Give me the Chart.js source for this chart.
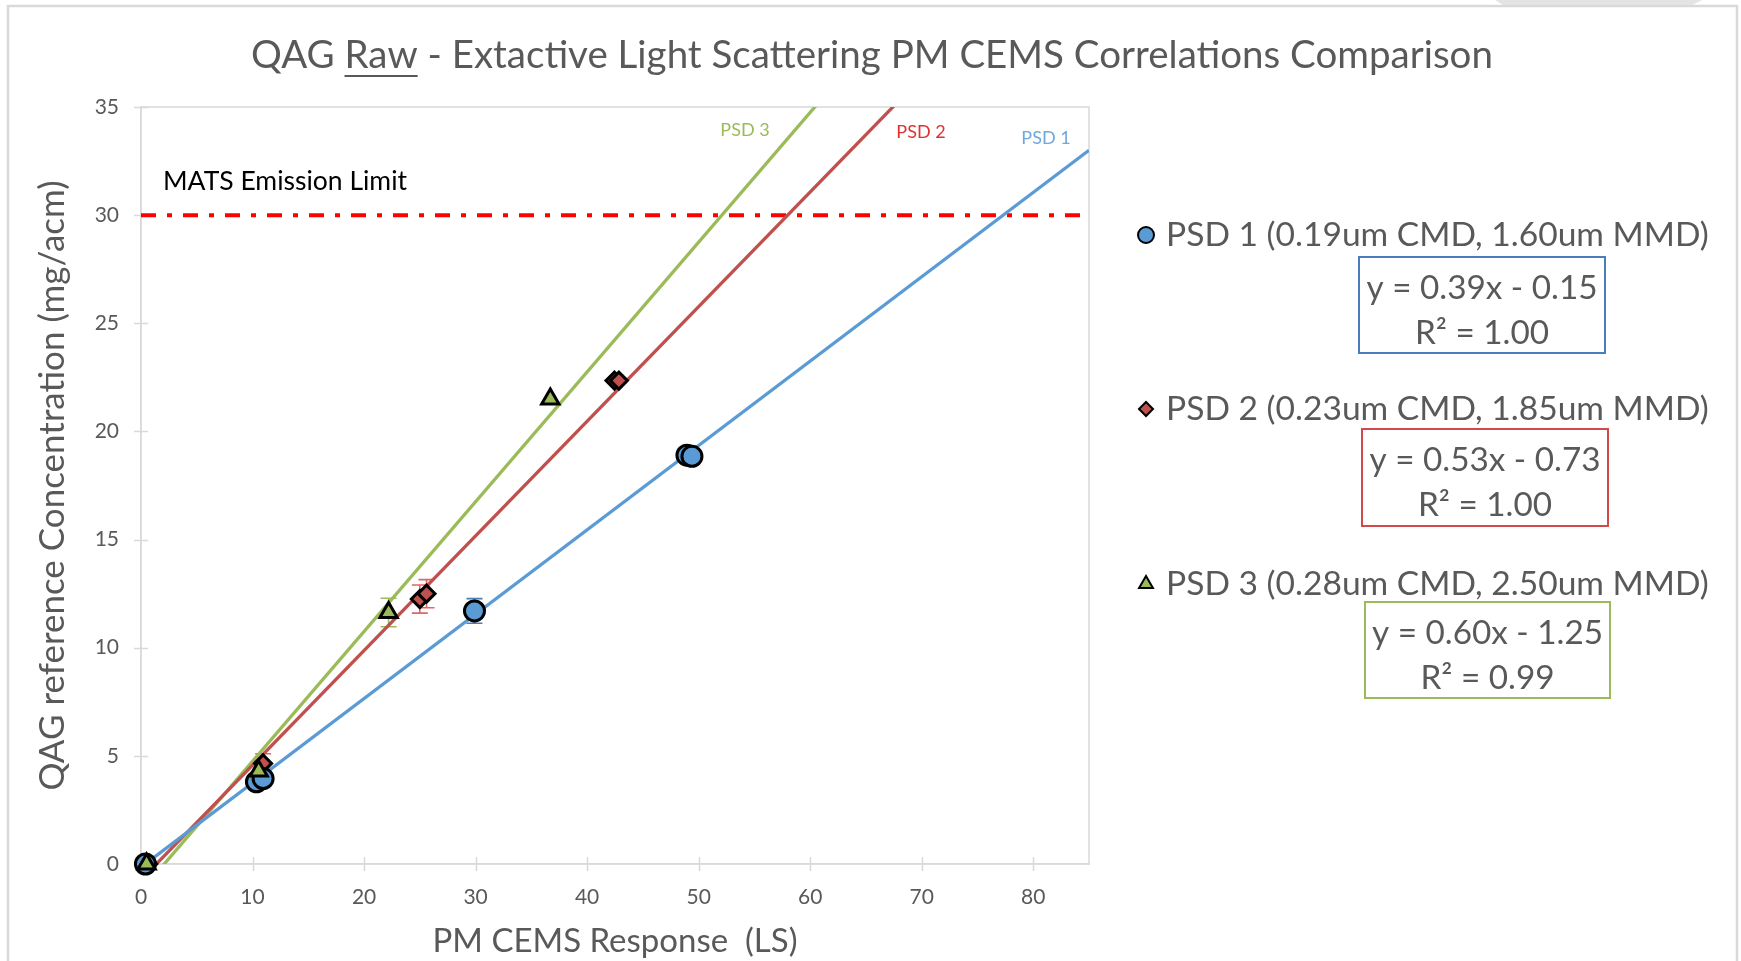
<!DOCTYPE html>
<html>
<head>
<meta charset="utf-8">
<script src="https://cdn.jsdelivr.net/npm/chart.js@4.4.1/dist/chart.umd.min.js"></script>
<style>
  html, body { margin: 0; padding: 0; background: #ffffff; }
  #wrap { width: 1741px; height: 961px; position: relative; }
</style>
</head>
<body>
<div id="wrap"><canvas id="chart" width="1741" height="961"></canvas></div>
<script>
// ---- data ----
const seriesLabels = [
  'PSD 1 (0.19um CMD, 1.60um MMD)',
  'PSD 2 (0.23um CMD, 1.85um MMD)',
  'PSD 3 (0.28um CMD, 2.50um MMD)'
];
const shortLabels = ['PSD 1', 'PSD 2', 'PSD 3'];

const psd1X   = [0.4, 10.35, 10.95, 29.9, 48.95, 49.4];
const psd1Y   = [0.0, 3.8,   3.95,  11.7, 18.9,  18.85];
const psd1Err = [0,   0,     0,     0.57, 0,     0];

const psd2X   = [0.65, 10.95, 25.0,  25.6, 42.45, 42.85];
const psd2Y   = [0.0,  4.65,  12.25, 12.5, 22.35, 22.35];
const psd2Err = [0,    0.45,  0.65,  0.65, 0,     0];

const psd3X   = [0.5, 10.55, 22.2,  36.7];
const psd3Y   = [0.0, 4.3,   11.63, 21.5];
const psd3Err = [0,   0,     0.66,  0];

// fitted trendlines (slope, intercept, R²)
const slopes     = [0.39, 0.53, 0.60];
const intercepts = [-0.15, -0.73, -1.25];
const rSquared   = ['1.00', '1.00', '0.99'];

const emissionLimit = 30;
const xTicks = [0, 10, 20, 30, 40, 50, 60, 70, 80];
const yTicks = [0, 5, 10, 15, 20, 25, 30, 35];
const xMin = 0, xMax = 85, yMin = 0, yMax = 35;

// ---- styles ----
const FONT = 'Lato';
const TEXT_GREY = '#595959';
const lineColors   = ['#5b9bd5', '#c0504d', '#9bbb59'];
const markerFills  = ['#5b9bd5', '#c0504d', '#9bbb59'];
const markerStyles = ['circle', 'rectRot', 'triangle'];
const markerRadius = [10, 8.5, 10];
const markerOrder  = [0, 0, -1];
const errColors    = ['#4a7ebb', '#e06666', '#9bbb59'];
const boxColors    = ['#4a7ebb', '#d04a4a', '#9bbb59'];
const tagColors    = ['#6fa8dc', '#e03030', '#9bbb59'];

const xs = [psd1X, psd2X, psd3X];
const ys = [psd1Y, psd2Y, psd3Y];
const errs = [psd1Err, psd2Err, psd3Err];

const pts = (xArr, yArr) => xArr.map((x, i) => ({ x, y: yArr[i] }));
const trend = i => [xMin, xMax].map(x => ({ x, y: slopes[i] * x + intercepts[i] }));

const datasets = [];
// measured points (drawn on top, not clipped at the axes)
for (let i = 0; i < 3; i++) {
  datasets.push({
    label: seriesLabels[i],
    data: pts(xs[i], ys[i]),
    showLine: false,
    clip: false,
    pointStyle: markerStyles[i],
    pointRadius: markerRadius[i],
    pointBackgroundColor: markerFills[i],
    pointBorderColor: '#000000',
    pointBorderWidth: 3,
    order: markerOrder[i]
  });
}
// trendlines
for (let i = 0; i < 3; i++) {
  datasets.push({
    label: shortLabels[i] + ' trend',
    data: trend(i),
    showLine: true,
    borderColor: lineColors[i],
    borderWidth: 3.3,
    pointRadius: 0,
    order: 1
  });
}
// emission limit
datasets.push({
  label: 'MATS Emission Limit',
  data: [{ x: xMin, y: emissionLimit }, { x: xMax, y: emissionLimit }],
  showLine: true,
  borderColor: '#ff0000',
  borderWidth: 4,
  borderDash: [15, 11, 5, 11],
  pointRadius: 0,
  order: 2
});

// ---- drawing helpers ----
const frame = {
  id: 'frame',
  beforeDraw(chart) {
    const ctx = chart.ctx;
    ctx.save();
    ctx.fillStyle = '#ffffff';
    ctx.fillRect(0, 0, chart.width, chart.height);
    // grey sliver at the top right edge
    ctx.fillStyle = '#e4e4e4';
    ctx.beginPath();
    ctx.moveTo(1495, 0); ctx.lineTo(1702, 0); ctx.lineTo(1690, 6); ctx.lineTo(1505, 6);
    ctx.closePath(); ctx.fill();
    // outer border
    ctx.strokeStyle = '#d9d9d9';
    ctx.lineWidth = 2.5;
    ctx.strokeRect(8, 6, 1729, 1000);
    ctx.restore();
  }
};

const decorations = {
  id: 'decorations',
  beforeDatasetsDraw(chart) {
    const ctx = chart.ctx;
    const a = chart.chartArea;
    const sx = chart.scales.x, sy = chart.scales.y;
    ctx.save();
    // plot-area outline
    ctx.strokeStyle = '#d9d9d9';
    ctx.lineWidth = 1.5;
    ctx.strokeRect(a.left, a.top, a.right - a.left, a.bottom - a.top);
    // crossing tick marks
    ctx.beginPath();
    xTicks.forEach(v => {
      const px = Math.round(sx.getPixelForValue(v)) + 0.5;
      ctx.moveTo(px, a.bottom - 7); ctx.lineTo(px, a.bottom + 7);
    });
    yTicks.forEach(v => {
      const py = Math.round(sy.getPixelForValue(v)) + 0.5;
      ctx.moveTo(a.left - 7, py); ctx.lineTo(a.left + 7, py);
    });
    ctx.stroke();
    // error bars
    ctx.lineWidth = 1.6;
    for (let i = 0; i < 3; i++) {
      ctx.strokeStyle = errColors[i];
      xs[i].forEach((x, j) => {
        const e = errs[i][j];
        if (!e) return;
        const px = sx.getPixelForValue(x);
        const top = sy.getPixelForValue(ys[i][j] + e);
        const bot = sy.getPixelForValue(ys[i][j] - e);
        ctx.beginPath();
        ctx.moveTo(px, top); ctx.lineTo(px, bot);
        ctx.moveTo(px - 8, top); ctx.lineTo(px + 8, top);
        ctx.moveTo(px - 8, bot); ctx.lineTo(px + 8, bot);
        ctx.stroke();
      });
    }
    ctx.restore();
  },
  afterDraw(chart) {
    const ctx = chart.ctx;
    const a = chart.chartArea;
    ctx.save();

    // title with underlined word
    const parts = ['QAG ', 'Raw', ' - Extactive Light Scattering PM CEMS Correlations Comparison'];
    ctx.font = `38.5px ${FONT}`;
    ctx.fillStyle = TEXT_GREY;
    ctx.textBaseline = 'alphabetic';
    ctx.textAlign = 'left';
    const widths = parts.map(p => ctx.measureText(p).width);
    const total = widths.reduce((s, w) => s + w, 0);
    let tx = 872 - total / 2;
    const baseY = 68;
    parts.forEach((p, k) => {
      ctx.fillText(p, tx, baseY);
      if (k === 1) {
        ctx.fillRect(tx, baseY + 7, widths[k], 2);
      }
      tx += widths[k];
    });

    // axis titles
    ctx.textAlign = 'center';
    ctx.textBaseline = 'middle';
    ctx.font = `33px ${FONT}`;
    ctx.fillText('PM CEMS Response  (LS)', (a.left + a.right) / 2, 941);
    ctx.save();
    ctx.font = `35px ${FONT}`;
    ctx.translate(53, (a.top + a.bottom) / 2);
    ctx.rotate(-Math.PI / 2);
    ctx.fillText('QAG reference Concentration (mg/acm)', 0, 0);
    ctx.restore();

    // limit annotation
    ctx.font = `26.5px ${FONT}`;
    ctx.fillStyle = '#000000';
    ctx.textAlign = 'left';
    ctx.fillText('MATS Emission Limit', 163, 181);

    // trendline tags
    ctx.font = `18px ${FONT}`;
    ctx.textAlign = 'center';
    const tagPos = [[1046, 138], [921, 132], [745, 130]];
    for (let i = 0; i < 3; i++) {
      ctx.fillStyle = tagColors[i];
      ctx.fillText(shortLabels[i], tagPos[i][0], tagPos[i][1]);
    }

    // legend with equation boxes
    const rowY = [235, 409, 584];
    const boxes = [[1359, 257, 246, 96], [1362, 429, 246, 97], [1365, 602, 245, 96]];
    for (let i = 0; i < 3; i++) {
      ctx.fillStyle = markerFills[i];
      ctx.strokeStyle = '#000000';
      ctx.lineWidth = 2;
      Chart.helpers.drawPoint(ctx, {
        pointStyle: markerStyles[i],
        radius: i === 1 ? 7 : 8,
        borderWidth: 2,
        rotation: 0
      }, 1146, rowY[i]);

      ctx.fillStyle = TEXT_GREY;
      ctx.font = `33.6px ${FONT}`;
      ctx.textAlign = 'left';
      ctx.textBaseline = 'middle';
      ctx.fillText(seriesLabels[i], 1166, rowY[i]);

      const [bx, by, bw, bh] = boxes[i];
      ctx.strokeStyle = boxColors[i];
      ctx.lineWidth = 2;
      ctx.strokeRect(bx, by, bw, bh);
      ctx.textAlign = 'center';
      ctx.font = `33.3px ${FONT}`;
      const sign = intercepts[i] < 0 ? '-' : '+';
      ctx.fillText(`y = ${slopes[i].toFixed(2)}x ${sign} ${Math.abs(intercepts[i]).toFixed(2)}`, bx + bw / 2, by + 31);
      ctx.fillText(`R² = ${rSquared[i]}`, bx + bw / 2, by + 76);
    }
    ctx.restore();
  }
};

new Chart(document.getElementById('chart'), {
  type: 'scatter',
  data: { datasets },
  options: {
    responsive: false,
    animation: false,
    devicePixelRatio: 1,
    layout: { padding: { left: 0, top: 107, right: 652, bottom: 0 } },
    plugins: { legend: { display: false }, tooltip: { enabled: false }, title: { display: false } },
    scales: {
      x: {
        type: 'linear', min: xMin, max: xMax,
        afterFit: s => { s.height = 97; },
        afterBuildTicks: s => { s.ticks = xTicks.map(v => ({ value: v })); },
        grid: { display: true, drawOnChartArea: false, drawTicks: false },
        border: { display: true, color: '#d9d9d9', width: 1.5 },
        ticks: { color: TEXT_GREY, font: { family: FONT, size: 21 }, padding: 21, maxRotation: 0 }
      },
      y: {
        type: 'linear', min: yMin, max: yMax,
        afterFit: s => { s.width = 141; },
        afterBuildTicks: s => { s.ticks = yTicks.map(v => ({ value: v })); },
        grid: { display: true, drawOnChartArea: false, drawTicks: false },
        border: { display: true, color: '#d9d9d9', width: 1.5 },
        ticks: { color: TEXT_GREY, font: { family: FONT, size: 21 }, padding: 22 }
      }
    }
  },
  plugins: [frame, decorations]
});
</script>
</body>
</html>
